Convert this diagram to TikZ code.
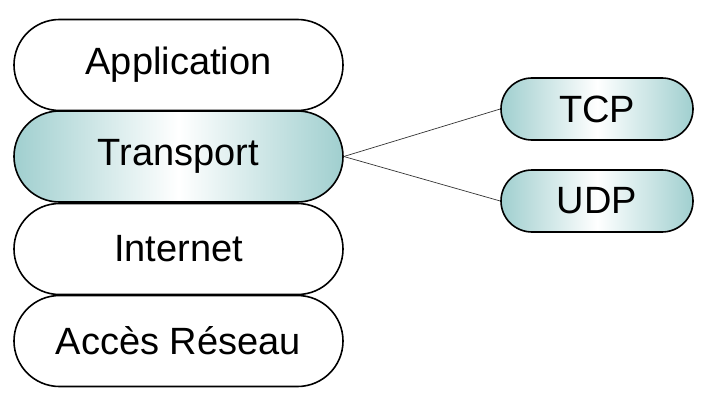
\documentclass[tikz,border=0pt]{standalone}
\usepackage{fontspec}
\setmainfont{Liberation Sans}
\usetikzlibrary{shapes.misc}

\definecolor{tealedge}{RGB}{160,207,207}

\begin{document}
\begin{tikzpicture}[x=1pt, y=1pt,
        layer/.style={rounded rectangle, draw=black, line width=1.6pt,
            minimum width=329pt, minimum height=91pt, inner sep=0pt,
            font=\fontsize{38}{40}\selectfont},
        proto/.style={rounded rectangle, draw=black, line width=1.6pt,
            minimum width=192pt, minimum height=62pt, inner sep=0pt,
            font=\fontsize{38}{40}\selectfont},
        tealfill/.style={left color=tealedge, right color=tealedge, middle color=white},
        link/.style={draw=black!80, line width=0.7pt}]
        \useasboundingbox (0,0) rectangle (703,405);

        \node[layer, fill=white] (app) at (178.5,340) {Application};
        \node[layer, tealfill] (transport) at (178.5,248.5) {Transport};
        \node[layer, fill=white] (internet) at (178.5,156) {Internet};
        \node[layer, fill=white] (acces) at (178.5,64) {Accès Réseau};

        \node[proto, tealfill] (tcp) at (597,296) {TCP};
        \node[proto, tealfill] (udp) at (597,204) {UDP};

        \draw[link] (transport.east) -- (tcp.west);
        \draw[link] (transport.east) -- (udp.west);
    \end{tikzpicture}
\end{document}
